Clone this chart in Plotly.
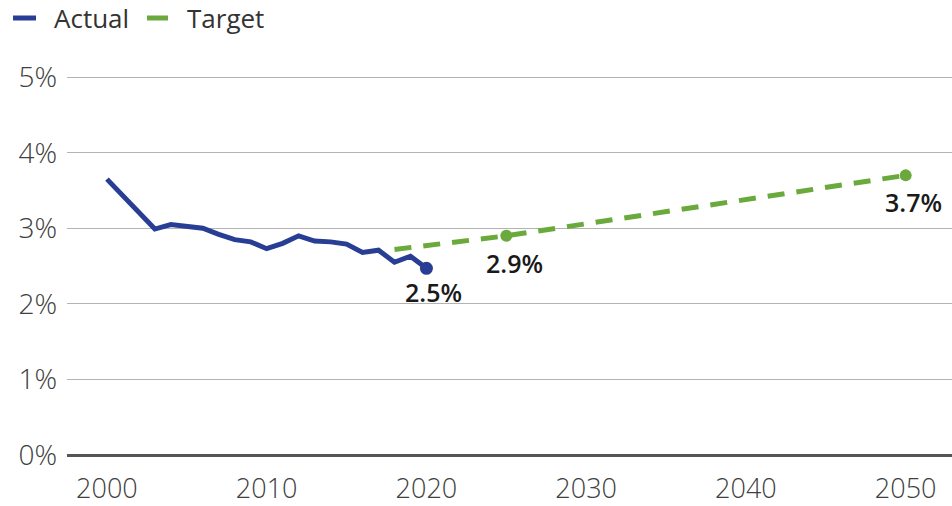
import plotly.graph_objects as go

series_names = ["Actual", "Target"]
actual_years = list(range(2000, 2021))
actual_vals = [3.65, 3.43, 3.20, 2.99, 3.05, 3.03, 3.00, 2.92, 2.85, 2.82, 2.73,
               2.80, 2.90, 2.83, 2.82, 2.79, 2.68, 2.71, 2.55, 2.63, 2.47]
target_years = [2018, 2025, 2050]
target_vals = [2.72, 2.90, 3.70]

x_ticks = [2000, 2010, 2020, 2030, 2040, 2050]
y_ticks = [0, 1, 2, 3, 4, 5]
y_labels = ["0%", "1%", "2%", "3%", "4%", "5%"]

blue = "#283e95"
green = "#6aaa3c"
font_family = "Open Sans, DejaVu Sans, sans-serif"

W, H = 952, 506
ML, MR, MT, MB = 67, 0, 62, 51
PW, PH = W - ML - MR, H - MT - MB


def px_x(p):
    return (p - ML) / PW


def px_y(p):
    return (H - MB - p) / PH


fig = go.Figure()
fig.add_trace(go.Scatter(
    x=actual_years, y=actual_vals, name=series_names[0], mode="lines",
    line=dict(color=blue, width=5), showlegend=False))
fig.add_trace(go.Scatter(
    x=[actual_years[-1]], y=[actual_vals[-1]], mode="markers",
    marker=dict(color=blue, size=13), showlegend=False, hoverinfo="skip"))
fig.add_trace(go.Scatter(
    x=target_years, y=target_vals, name=series_names[1], mode="lines",
    line=dict(color=green, width=5, dash="17px,12px"), showlegend=False))
fig.add_trace(go.Scatter(
    x=target_years[1:], y=target_vals[1:], mode="markers",
    marker=dict(color=green, size=12), showlegend=False, hoverinfo="skip"))

labels = [(actual_years[-1], actual_vals[-1], 7, -24),
          (target_years[1], target_vals[1], 8, -27),
          (target_years[2], target_vals[2], 8, -27)]
for x, y, dx, dy in labels:
    fig.add_annotation(x=x, y=y, text="%.1f%%" % y, showarrow=False,
                       xshift=dx, yshift=dy,
                       font=dict(size=25, color="#1a1a1a", family=font_family,
                                 weight=600))

# custom legend (short swatches like the reference)
legend_items = [(series_names[0], blue, 13, 36, 52),
                (series_names[1], green, 147, 168, 185)]
ly = px_y(18)
for name, col, s0, s1, tx in legend_items:
    fig.add_shape(type="line", xref="paper", yref="paper",
                  x0=px_x(s0), x1=px_x(s1), y0=ly, y1=ly,
                  line=dict(color=col, width=5))
    fig.add_annotation(xref="paper", yref="paper", x=px_x(tx), y=ly,
                       xanchor="left", yanchor="middle", text=name,
                       showarrow=False,
                       font=dict(size=26, color="#333333", family=font_family))

fig.update_layout(
    width=W, height=H,
    margin=dict(l=ML, r=MR, t=MT, b=MB, autoexpand=False),
    paper_bgcolor="white", plot_bgcolor="white",
    font=dict(family=font_family, color="#404040"),
    showlegend=False,
)
fig.update_xaxes(range=[1997.5, 2052.9], tickvals=x_ticks, showgrid=False,
                 zeroline=False, showline=False, ticks="", automargin=False,
                 tickfont=dict(size=27, color="#404040", weight=300),
                 ticklabelstandoff=15)
fig.update_yaxes(range=[0, 5.2], tickvals=y_ticks, ticktext=y_labels,
                 showgrid=True, gridcolor="#b3b3b3", gridwidth=1,
                 zeroline=True, zerolinecolor="#555555", zerolinewidth=2.5,
                 showline=False, ticks="", automargin=False,
                 tickfont=dict(size=28, color="#404040", weight=300),
                 ticklabelstandoff=9)

fig.write_html("out.html",
               config={"displayModeBar": False},
               post_script="document.body.style.margin='0';"
                           "document.body.style.padding='0';"
                           "document.body.style.overflow='hidden';")
